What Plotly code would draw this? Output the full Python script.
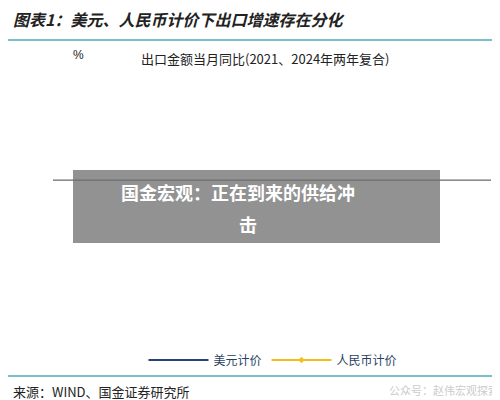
import plotly.graph_objs as go
import pandas as pd

months = pd.date_range("2019-03-01", "2024-03-01", freq="MS").strftime("%Y-%m").tolist()

usd = [15, -2.5, 1, -1.5, 3.3, 0, -1, 0, -1, 7.5, -1, -17.2, -4, 3, -3.5, 0.5, 7, 9, 9.5, 11,
       20.5, 18, 16.5, 15, 10, 16.5, 11, 15, 12.7, 15.9, 17.3, 17.7, 20.7, 18.2, 16, 13.9, 12.3, 0.4,
       14.3, 14.3, 15.7, 5, 3.4, -1, -11, -12.8, -11, -9, 10, 6.3, -6.2, -12.9, -14.5, -9.1, -7.5,
       -7.1, 0, 1.5, -0.2, -2, 0.5]
cny = [21, 3, 7.7, 5.8, 10.5, 2.5, 0, 2, 1, 9.5, -2, -16.2, -4, 7.8, 1.5, 4, 10, 11, 8, 7,
       14.5, 10.7, 11.5, 12.2, 7.5, 14.5, 9, 11.5, 8.3, 12.3, 12.7, 12.3, 14.3, 12.9, 12, 11.3, 10.7,
       -0.2, 12.9, 18.3, 22, 9.7, 8.3, 4.8, -1, -4.6, -3, -1, 19, 14.7, -1.6, -8.9, -9.5, -3.6, -2.2,
       -4.2, 1, 3, 3.8, 4.6, 7]
tick_months = months[::3]

fig = go.Figure()
fig.add_trace(go.Scatter(x=months, y=usd, mode="lines", name="美元计价",
                         line=dict(color="#24427a", width=2.2)))
fig.add_trace(go.Scatter(x=months, y=cny, mode="lines+markers", name="人民币计价",
                         line=dict(color="#f5bf1a", width=2.2),
                         marker=dict(symbol="diamond", size=5, color="#f5bf1a")))

# teal rules above and below the chart, drawn on a full-page overlay axis
for yy in [0.92, 0.08]:
    fig.add_trace(go.Scatter(x=[0, 1], y=[yy, yy], mode="lines", xaxis="x2", yaxis="y2",
                             line=dict(color="#4fa8bd", width=1.5), showlegend=False, hoverinfo="skip"))

fig.update_xaxes(type="category", tickmode="array", tickvals=tick_months, ticktext=tick_months,
                 tickangle=-90, showgrid=False, zeroline=False, ticks="",
                 tickfont=dict(size=11, color="#222"), range=[-0.2, 60.2],
                 domain=[0.09, 0.966], automargin=False)
fig.update_yaxes(range=[-20, 25], dtick=5, showgrid=False, zeroline=False,
                 showline=True, linecolor="#444", ticks="outside", ticklen=4,
                 tickfont=dict(size=12, color="#222"), domain=[0.3175, 0.885], automargin=False)

fig.update_layout(
    xaxis2=dict(domain=[0, 1], range=[0, 1], anchor="y2", visible=False, fixedrange=True),
    yaxis2=dict(domain=[0, 1], range=[0, 1], anchor="x2", visible=False, fixedrange=True),
)

# zero line
fig.add_hline(y=0, line=dict(color="#444", width=1))

fig.add_annotation(text="<b><i>图表1：美元、人民币计价下出口增速存在分化</i></b>", xref="paper", yref="paper",
                   x=0.006, y=0.972, xanchor="left", yanchor="middle", showarrow=False,
                   font=dict(size=16, color="#222", family="Noto Sans CJK SC"))
fig.add_annotation(text="%", xref="paper", yref="paper", x=0.125, y=0.882, xanchor="left", yanchor="middle",
                   showarrow=False, font=dict(size=12, color="#222"))
fig.add_annotation(text="出口金额当月同比(2021、2024年两年复合)", xref="paper", yref="paper", x=0.514, y=0.875,
                   yanchor="middle", showarrow=False, font=dict(size=13, color="#222", family="Noto Sans CJK SC"))
fig.add_annotation(text="来源：WIND、国金证券研究所", xref="paper", yref="paper", x=0.006, y=0.0425,
                   xanchor="left", yanchor="middle", showarrow=False,
                   font=dict(size=13, color="#222", family="Noto Sans CJK SC"))
fig.add_annotation(text="公众号：赵伟宏观探索", xref="paper", yref="paper", x=0.985, y=0.045,
                   xanchor="right", yanchor="middle", showarrow=False,
                   font=dict(size=11, color="#ccc", family="Noto Sans CJK SC"))

# watermark box
fig.add_shape(type="rect", xref="paper", yref="paper", x0=0.13, x1=0.864, y0=0.4125, y1=0.595,
              fillcolor="rgba(110,110,110,0.75)", line=dict(width=0))
fig.add_annotation(text="<b>国金宏观：正在到来的供给冲</b>", xref="paper", yref="paper", x=0.46, y=0.54,
                   showarrow=False, font=dict(size=18, color="white", family="Noto Sans CJK SC"))
fig.add_annotation(text="<b>击</b>", xref="paper", yref="paper", x=0.48, y=0.46,
                   showarrow=False, font=dict(size=18, color="white", family="Noto Sans CJK SC"))

fig.update_layout(width=500, height=400, margin=dict(l=0, r=0, t=0, b=0),
                  plot_bgcolor="white", paper_bgcolor="white",
                  font=dict(family="Liberation Sans, Noto Sans CJK SC"),
                  legend=dict(orientation="h", x=0.53, xanchor="center", y=0.12, yanchor="middle",
                              font=dict(size=12, family="Noto Sans CJK SC"), itemwidth=60))

fig.write_html("out.html")
